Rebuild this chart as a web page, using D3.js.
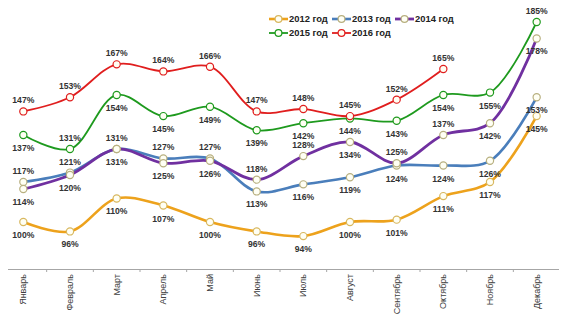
<!DOCTYPE html>
<html><head><meta charset="utf-8">
<script src="https://cdn.jsdelivr.net/npm/d3@7"></script>
<style>body{margin:0;background:#fff}svg{display:block}</style>
</head><body><svg id="c" width="569" height="321"></svg>
<script>
const months = ["Январь","Февраль","Март","Апрель","Май","Июнь","Июль","Август","Сентябрь","Октябрь","Ноябрь","Декабрь"];
const v2012 = [100,96,110,107,100,96,94,100,101,111,117,145];
const v2013 = [117,121,131,127,127,113,116,119,124,124,126,153];
const v2014 = [114,120,131,125,126,118,128,134,125,137,142,178];
const v2015 = [137,131,154,145,149,139,142,144,143,154,155,185];
const v2016 = [147,153,167,164,166,147,148,145,152,165];
// label placement: a = above, b = below
const pos2012 = "bbbbbbbbbbbb".split("");
const pos2013 = "aaaaabbbbbbb".split("");
const pos2014 = "bbbbbaabaabb".split("");
const pos2015 = "babbbbbbbbba".split("");
const pos2016 = "aaaaaaaaaa".split("");

const series = [
  {name:"2012 год", vals:v2012, pos:pos2012, color:"#EDA21C", mk:"#D8B860", w:2.6, lg:[0,0]},
  {name:"2013 год", vals:v2013, pos:pos2013, color:"#4A7EBB", mk:"#B8B080", w:2.6, lg:[1,0]},
  {name:"2014 год", vals:v2014, pos:pos2014, color:"#7030A0", mk:"#B8B080", w:2.8, lg:[2,0]},
  {name:"2015 год", vals:v2015, pos:pos2015, color:"#1E9A1E", mk:"#1E9A1E", w:1.8, lg:[0,1]},
  {name:"2016 год", vals:v2016, pos:pos2016, color:"#E01E1E", mk:"#E01E1E", w:1.8, lg:[1,1]}
];

const svg = d3.select("#c");
const x = d3.scaleBand().domain(months).range([0,560]);
const y = d3.scaleLinear().domain([100,185]).range([222,22]);
const cx = m => x(m) + x.bandwidth()/2;

// axis
const ax = svg.append("g").attr("transform","translate(0,269)")
  .call(d3.axisBottom(x).tickSize(0).tickSizeOuter(0).tickFormat(""));
ax.select(".domain").remove();
svg.append("line").attr("x1",8).attr("x2",559).attr("y1",269.5).attr("y2",269.5)
  .attr("stroke","#A6A6A6").attr("stroke-width",1);
months.slice(1).forEach(m=>{
  svg.append("line").attr("x1",x(m)).attr("x2",x(m)).attr("y1",269.5).attr("y2",272)
    .attr("stroke","#A6A6A6");
});
months.forEach(m=>{
  svg.append("text").attr("transform",`translate(${cx(m)+3},274) rotate(-90)`)
    .attr("text-anchor","end").attr("font-family","Liberation Sans, Arial, sans-serif")
    .attr("font-size","9px").attr("fill","#404040").text(m);
});

const line = d3.line().x((d,i)=>cx(months[i])).y(d=>y(d)).curve(d3.curveCatmullRom.alpha(0.5));

series.forEach(s=>{
  svg.append("path").attr("d",line(s.vals)).attr("fill","none")
    .attr("stroke",s.color).attr("stroke-width",s.w);
});
series.forEach(s=>{
  s.vals.forEach((v,i)=>{
    svg.append("circle").attr("cx",cx(months[i])).attr("cy",y(v)).attr("r",3.6)
      .attr("fill","#FFFFF4").attr("stroke",s.mk).attr("stroke-width",1.2);
  });
});
series.forEach(s=>{
  s.vals.forEach((v,i)=>{
    svg.append("text").attr("x",cx(months[i])).attr("y",y(v)+(s.pos[i]==="a"?-8:16))
      .attr("text-anchor","middle").attr("font-family","Liberation Sans, Arial, sans-serif")
      .attr("font-weight","bold").attr("font-size","8.6px").attr("fill","#333")
      .text(v+"%");
  });
});

// legend
const colX = [269,332,395], rowY = [19,33];
series.forEach(s=>{
  const lx = colX[s.lg[0]], ly = rowY[s.lg[1]];
  const g = svg.append("g");
  g.append("line").attr("x1",lx).attr("x2",lx+19).attr("y1",ly).attr("y2",ly)
    .attr("stroke",s.color).attr("stroke-width",s.w);
  g.append("circle").attr("cx",lx+9.5).attr("cy",ly).attr("r",3.4)
    .attr("fill","#FFFFF4").attr("stroke",s.mk).attr("stroke-width",1.2);
  g.append("text").attr("x",lx+20).attr("y",ly+3.3)
    .attr("font-family","Liberation Sans, Arial, sans-serif").attr("font-weight","bold")
    .attr("font-size","9.4px").attr("fill","#222").text(s.name);
});
</script></body></html>
